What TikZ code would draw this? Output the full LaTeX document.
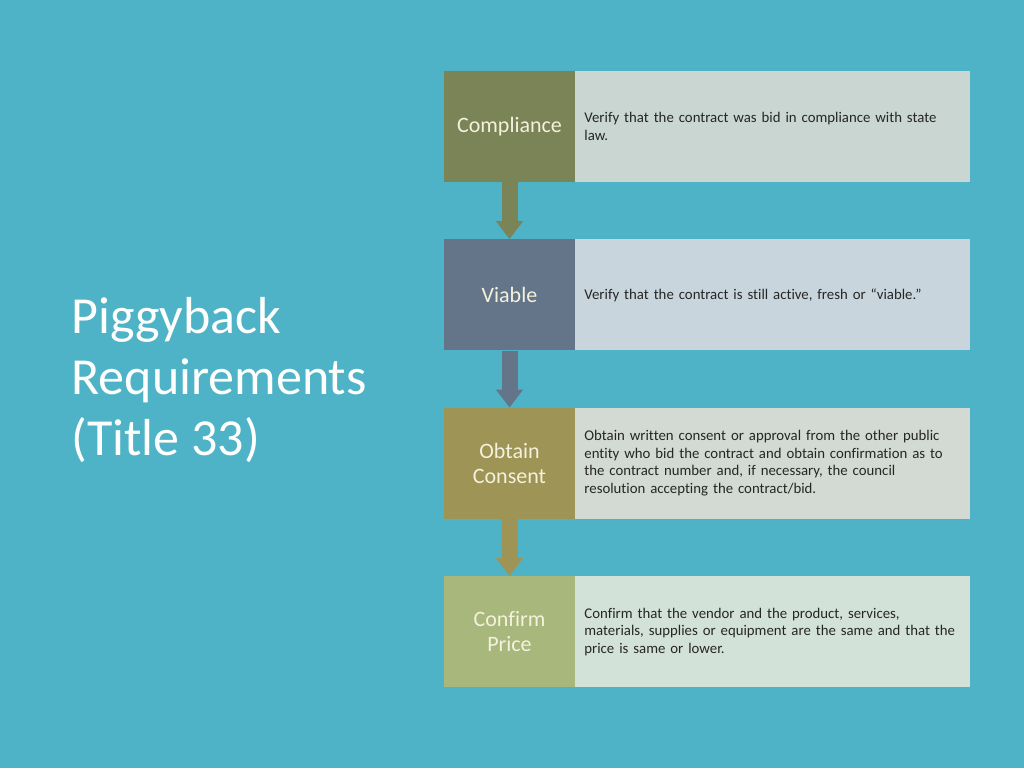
\documentclass[tikz,border=0pt]{standalone}
\usepackage{fontspec}
\setmainfont{Carlito}[Ligatures=NoCommon]
\usetikzlibrary{positioning,arrows.meta}
\definecolor{sea}{HTML}{4FB3C8}
\definecolor{cream}{HTML}{F4F1DC}
\definecolor{ink}{HTML}{262626}
\definecolor{compc}{HTML}{7A8456}
\definecolor{compt}{HTML}{C9D6D1}
\definecolor{viabc}{HTML}{64758A}
\definecolor{viabt}{HTML}{C9D5DD}
\definecolor{obtc}{HTML}{9D9455}
\definecolor{obtt}{HTML}{D3D9D3}
\definecolor{confc}{HTML}{A8B87C}
\definecolor{conft}{HTML}{D3E2D9}

\begin{document}
\begin{tikzpicture}[x=1pt,y=1pt,node distance=57pt and 0pt,
lab/.style={minimum width=131pt,minimum height=111pt,inner sep=0pt,align=center,text=cream,font=\fontsize{22}{25}\selectfont},
desc/.style={minimum height=111pt,text width=377pt,inner xsep=9pt,inner ysep=0pt,align=left,text=ink,font=\fontsize{14.8}{17.5}\selectfont},
flow/.style={line width=16pt,-{Triangle[width=26pt,length=18pt]}}]
\fill[sea] (0,0) rectangle (1024,-768);
\node[anchor=west,align=left,text=white!95!cream,font=\fontsize{52}{61}\selectfont] (title) at (68,-380) {Piggyback\\Requirements\\(Title 33)};
\node[lab,fill=compc] (comp) at (509.5,-126.5) {Compliance};
\node[desc,fill=compt,right=of comp] (compd) {Verify that the contract was bid in compliance with state\\law.};
\node[lab,fill=viabc,below=of comp] (viab) {Viable};
\node[desc,fill=viabt,right=of viab] (viabd) {Verify that the contract is still active, fresh or \char"201C viable.\char"201D};
\node[lab,fill=obtc,below=of viab] (obt) {Obtain\\Consent};
\node[desc,fill=obtt,right=of obt] (obtd) {Obtain written consent or approval from the other public\\entity who bid the contract and obtain confirmation as to\\the contract number and, if necessary, the council\\resolution accepting the contract/bid.};
\node[lab,fill=confc,below=of obt] (conf) {Confirm\\Price};
\node[desc,fill=conft,right=of conf] (confd) {Confirm that the vendor and the product, services,\\materials, supplies or equipment are the same and that the\\price is same or lower.};
\draw[flow,compc] (comp.south)--(viab.north);
\draw[flow,viabc] (viab.south)--(obt.north);
\draw[flow,obtc] (obt.south)--(conf.north);
\end{tikzpicture}
\end{document}
